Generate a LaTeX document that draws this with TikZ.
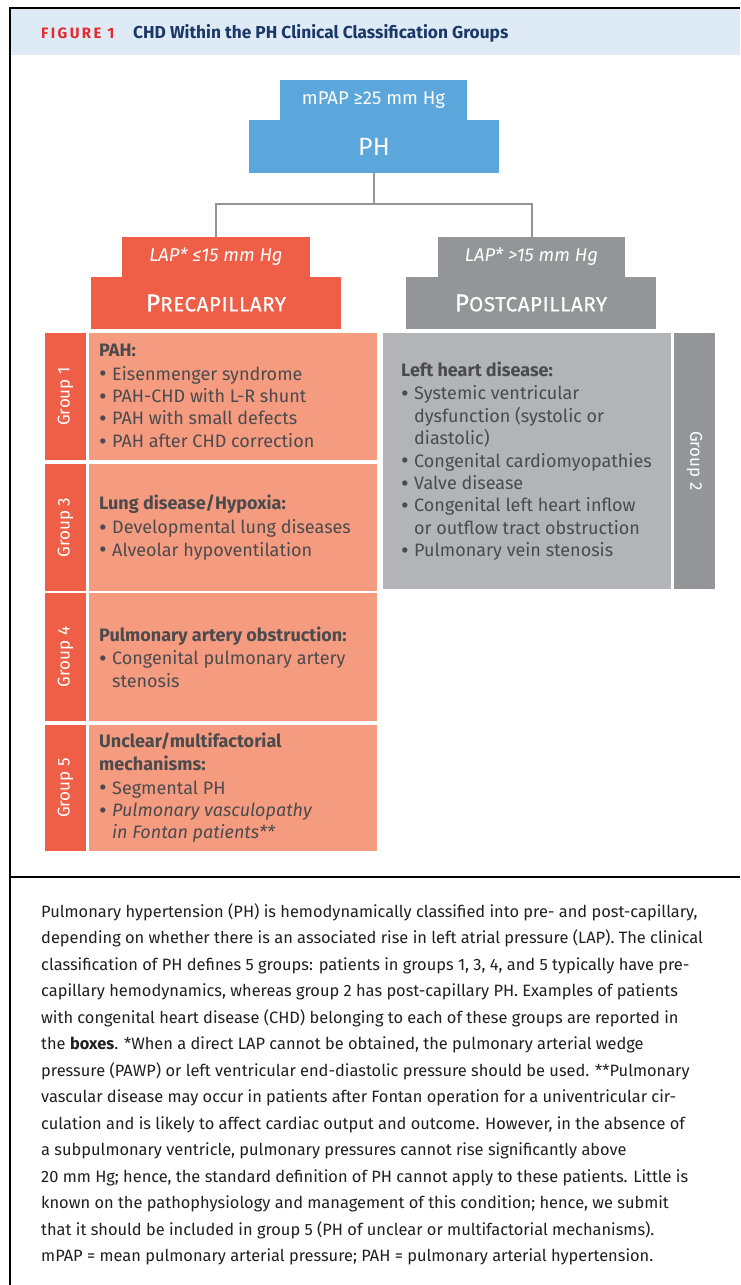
\documentclass[tikz,border=0pt]{standalone}
\usepackage{fontspec}
\setmainfont{Fira Sans}
\definecolor{phblue}{HTML}{5BA6DA}
\definecolor{prered}{HTML}{EF5E47}
\definecolor{salmon}{HTML}{F59B80}
\definecolor{dgrey}{HTML}{939598}
\definecolor{lgrey}{HTML}{B3B4B7}
\definecolor{txt}{HTML}{4B4B4D}
\definecolor{hdr}{HTML}{DEEAF6}
\definecolor{figred}{HTML}{E42A2F}
\definecolor{navy}{HTML}{1B3866}
\definecolor{captxt}{HTML}{231F20}
\newcommand\bul{\makebox[13pt][l]{\raisebox{-1.8pt}{\scalebox{1.3}{•}}}}
\newcommand\ind{\hspace*{13pt}}
\begin{document}
\begin{tikzpicture}[x=1pt,y=-1pt,
  fillbox/.style={inner sep=0pt, outer sep=0pt, anchor=north west},
  headbox/.style={fillbox, text=white},
  conn/.style={draw=dgrey, line width=2pt},
  btxt/.style={text=txt, align=left, anchor=west, inner sep=0pt, font=\fontsize{18}{22.4}\selectfont},
  grp/.style={text=white, inner sep=0pt, font=\fontsize{17}{18}\selectfont},
  grpbox/.style={fillbox, minimum width=41pt},
  cbox/.style={fillbox, minimum width=288pt},
]
\useasboundingbox (0,0) rectangle (740,1285);
\fill[white] (0,0) rectangle (740,1285);
% header band and frame
\fill[hdr] (10,9) rectangle (740,55);
\draw[line width=2pt] (10,1285) -- (10,8) -- (740,8);
\draw[line width=2pt] (10,877) -- (740,877);
\node[anchor=base west, inner sep=0pt, text=figred, font=\fontsize{15}{16}\selectfont\bfseries\addfontfeatures{LetterSpace=16}] (fig) at (41,38.5) {FIGURE 1};
\node[anchor=base west, inner sep=0pt, text=navy, font=\fontsize{17.3}{19}\selectfont\bfseries] (title) at (133,38.5) {CHD Within the PH Clinical Classification Groups};
% top boxes
\node[headbox, fill=phblue, minimum width=187pt, minimum height=40pt, font=\fontsize{18.5}{20}\selectfont] (mpap) at (280,80) {mPAP ≥25 mm Hg};
\node[headbox, fill=phblue, minimum width=250pt, minimum height=53pt, font=\fontsize{25}{27}\selectfont] (ph) at (249,120) {\raisebox{-2pt}{PH}};
\node[headbox, fill=prered, minimum width=188pt, minimum height=40pt, font=\fontsize{18.5}{20}\selectfont\itshape] (lap1) at (122,237) {LAP* ≤15 mm Hg};
\node[headbox, fill=prered, minimum width=250pt, minimum height=52pt, font=\fontsize{20.5}{22}\selectfont\addfontfeatures{LetterSpace=3,FakeBold=0.6}] (pre) at (91,277) {{\fontsize{24.5}{26}\selectfont P}RECAPILLARY};
\node[headbox, fill=dgrey, minimum width=187pt, minimum height=40pt, font=\fontsize{18.5}{20}\selectfont\itshape] (lap2) at (438,237) {LAP* >15 mm Hg};
\node[headbox, fill=dgrey, minimum width=250pt, minimum height=52pt, font=\fontsize{20.5}{22}\selectfont\addfontfeatures{LetterSpace=3,FakeBold=0.6}] (post) at (406,277) {{\fontsize{24.5}{26}\selectfont P}OSTCAPILLARY};
% connectors
\draw[conn] (ph.south) -- ++(0,31) coordinate (j);
\draw[conn] (lap1.north) |- (j) -| (lap2.north);
% group label boxes
\node[grpbox, fill=prered, minimum height=127pt] (g1) at (45,333) {};
\node[grpbox, fill=prered, minimum height=127pt] (g3) at (45,464) {};
\node[grpbox, fill=prered, minimum height=128pt] (g4) at (45,593) {};
\node[grpbox, fill=prered, minimum height=126pt] (g5) at (45,725) {};
\node[grpbox, fill=dgrey, minimum height=256pt] (g2) at (674,333) {};
\node[grp, rotate=90] (l1) at (g1.center) {Group 1};
\node[grp, rotate=90] (l3) at (g3.center) {Group 3};
\node[grp, rotate=90] (l4) at (g4.center) {Group 4};
\node[grp, rotate=90] (l5) at (g5.center) {Group 5};
\node[grp, rotate=-90] (l2) at (g2.center) {Group 2};
% content boxes
\node[cbox, fill=salmon, minimum height=127pt] (c1) at (89,333) {};
\node[cbox, fill=salmon, minimum height=127pt] (c3) at (89,464) {};
\node[cbox, fill=salmon, minimum height=128pt] (c4) at (89,593) {};
\node[cbox, fill=salmon, minimum height=126pt] (c5) at (89,725) {};
\node[cbox, fill=lgrey, minimum height=256pt] (c2) at (383,333) {};
\node[btxt] (t1) at ([xshift=10pt]c1.west) {\textbf{PAH:}\\[1.5pt]
\bul Eisenmenger syndrome\\
\bul PAH-CHD with L-R shunt\\
\bul PAH with small defects\\
\bul PAH after CHD correction};
\node[btxt] (t3) at ([xshift=10pt]c3.west) {\textbf{Lung disease/Hypoxia:}\\[1.5pt]
\bul Developmental lung diseases\\
\bul Alveolar hypoventilation};
\node[btxt] (t4) at ([xshift=10pt]c4.west) {\textbf{Pulmonary artery obstruction:}\\[1.5pt]
\bul Congenital pulmonary artery\\
\ind stenosis};
\node[btxt] (t5) at ([xshift=10pt]c5.west) {\textbf{Unclear/multifactorial}\\
\textbf{mechanisms:}\\[1.5pt]
\bul Segmental PH\\
\bul \textit{Pulmonary vasculopathy}\\
\ind \textit{in Fontan patients**}};
\node[btxt] (t2) at ([xshift=18pt]c2.west) {\textbf{Left heart disease:}\\[1.5pt]
\bul Systemic ventricular\\
\ind dysfunction (systolic or\\
\ind diastolic)\\
\bul Congenital cardiomyopathies\\
\bul Valve disease\\
\bul Congenital left heart inflow\\
\ind or outflow tract obstruction\\
\bul Pulmonary vein stenosis};
% caption
\node[anchor=north west, inner sep=0pt, align=left, text=captxt, font=\fontsize{16.4}{26.5}\selectfont] (cap) at (41,903) {Pulmonary hypertension (PH) is hemodynamically classified into pre- and post-capillary,\\
depending on whether there is an associated rise in left atrial pressure (LAP). The clinical\\
classification of PH defines 5 groups: patients in groups 1, 3, 4, and 5 typically have pre-\\
capillary hemodynamics, whereas group 2 has post-capillary PH. Examples of patients\\
with congenital heart disease (CHD) belonging to each of these groups are reported in\\
the \textbf{boxes}. *When a direct LAP cannot be obtained, the pulmonary arterial wedge\\
pressure (PAWP) or left ventricular end-diastolic pressure should be used. **Pulmonary\\
vascular disease may occur in patients after Fontan operation for a univentricular cir-\\
culation and is likely to affect cardiac output and outcome. However, in the absence of\\
a subpulmonary ventricle, pulmonary pressures cannot rise significantly above\\
20 mm Hg; hence, the standard definition of PH cannot apply to these patients. Little is\\
known on the pathophysiology and management of this condition; hence, we submit\\
that it should be included in group 5 (PH of unclear or multifactorial mechanisms).\\
mPAP = mean pulmonary arterial pressure; PAH = pulmonary arterial hypertension.};
\end{tikzpicture}
\end{document}
